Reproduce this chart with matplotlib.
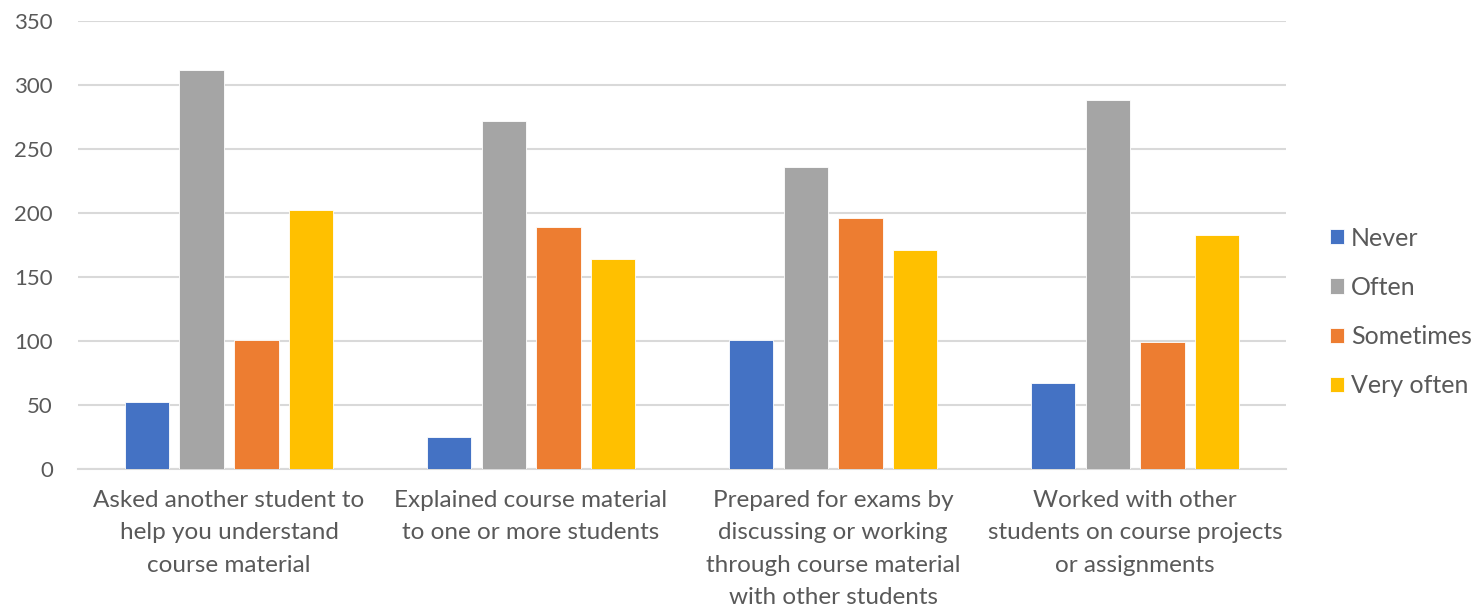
import numpy as np
import matplotlib
matplotlib.use("Agg")
import matplotlib.pyplot as plt

plt.rcParams['font.family'] = ['Lato', 'DejaVu Sans']

categories = [
    "Asked another student to\nhelp you understand\ncourse material",
    "Explained course material\nto one or more students",
    "Prepared for exams by\ndiscussing or working\nthrough course material\nwith other students",
    "Worked with other\nstudents on course projects\nor assignments",
]
series_names = ["Never", "Often", "Sometimes", "Very often"]
never = [52, 25, 101, 67]
often = [312, 272, 236, 288]
sometimes = [101, 189, 196, 99]
very_often = [202, 164, 171, 183]
colors = ["#4472C4", "#A5A5A5", "#ED7D31", "#FFC000"]
yticks = [0, 50, 100, 150, 200, 250, 300, 350]

text_color = "#595959"
grid_color = "#D9D9D9"

fig = plt.figure(figsize=(14.8, 6.11), dpi=100)
ax = fig.add_axes([0.0527, 0.2324, 0.8163, 0.7332])

x = np.arange(len(categories))
slot = 0.181
width = 0.147
all_series = [never, often, sometimes, very_often]
for i, (name, vals, col) in enumerate(zip(series_names, all_series, colors)):
    offset = (i - 1.5) * slot
    ax.bar(x + offset, vals, width=width, color=col, label=name,
           edgecolor="white", linewidth=0.6, zorder=3)

ax.set_xlim(-0.5, len(categories) - 0.5)
ax.set_ylim(0, 350)
ax.set_yticks(yticks)
ax.set_yticklabels([str(v) for v in yticks])
ax.set_xticks(x)
ax.set_xticklabels(categories, linespacing=1.67)

ax.grid(axis="y", color=grid_color, linewidth=1.5, zorder=0)
for s in ["top", "right", "left"]:
    ax.spines[s].set_visible(False)
ax.spines["bottom"].set_color(grid_color)
ax.spines["bottom"].set_linewidth(1.5)

ax.tick_params(axis="y", length=0, pad=18, labelsize=16, labelcolor=text_color)
ax.tick_params(axis="x", length=0, pad=15, labelsize=17.5, labelcolor=text_color)

handles, labels = ax.get_legend_handles_labels()
fig.legend(handles, labels, loc="center left", bbox_to_anchor=(0.8984, 0.4893),
           frameon=False, fontsize=18, labelcolor=text_color,
           handlelength=0.56, handleheight=0.56, handletextpad=0.3,
           labelspacing=1.05, borderaxespad=0, borderpad=0)

fig.savefig("out.png", dpi=100, facecolor="white")
